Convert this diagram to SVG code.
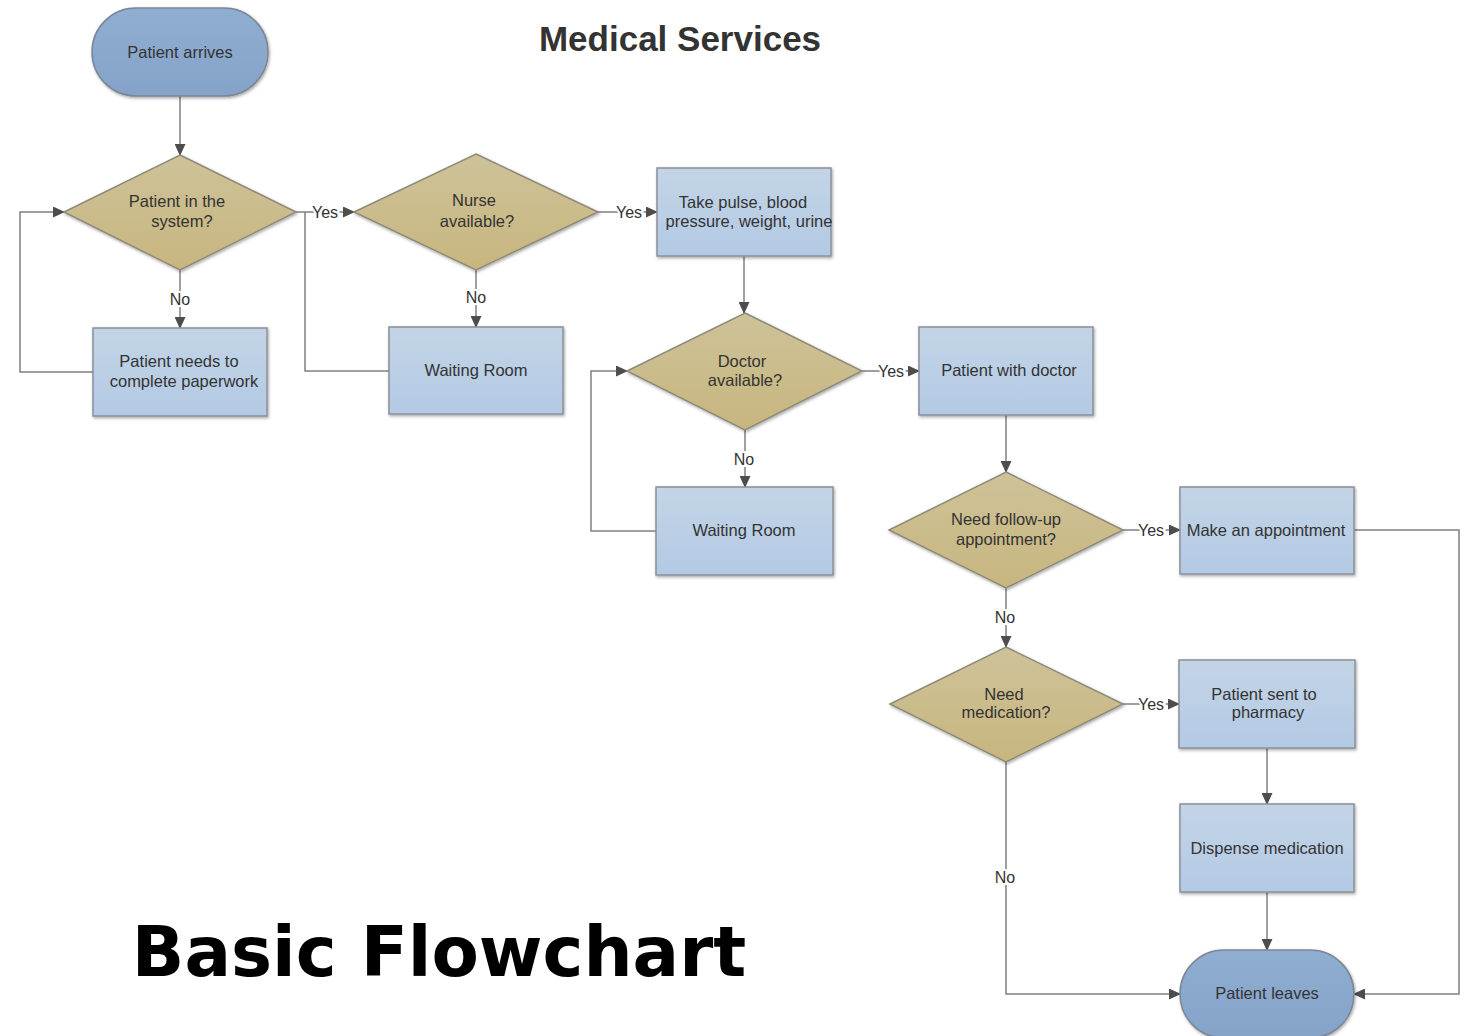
<svg xmlns="http://www.w3.org/2000/svg" width="1468" height="1036" viewBox="0 0 1468 1036">
<defs>
<linearGradient id="gBox" x1="0" y1="0" x2="0" y2="1"><stop offset="0" stop-color="#c3d4e6"/><stop offset="1" stop-color="#b3cae4"/></linearGradient>
<linearGradient id="gDia" x1="0" y1="0" x2="0" y2="1"><stop offset="0" stop-color="#cdc299"/><stop offset="1" stop-color="#c8b67e"/></linearGradient>
<linearGradient id="gTerm" x1="0" y1="0" x2="0" y2="1"><stop offset="0" stop-color="#90aed1"/><stop offset="1" stop-color="#85a3c9"/></linearGradient>
<filter id="sh" x="-10%" y="-10%" width="120%" height="130%"><feDropShadow dx="1" dy="1.5" stdDeviation="1.6" flood-color="#000" flood-opacity="0.35"/></filter>
<marker id="ar" markerUnits="userSpaceOnUse" markerWidth="12" markerHeight="11" refX="11" refY="5.5" orient="auto"><path d="M0,0 L12,5.5 L0,11 z" fill="#4d4d4d"/></marker>
</defs>
<style>
.box{fill:url(#gBox);stroke:#8a9098;stroke-width:1.5;filter:url(#sh)}
.dia{fill:url(#gDia);stroke:#8f8a78;stroke-width:1.5;filter:url(#sh)}
.term{fill:url(#gTerm);stroke:#7c8796;stroke-width:1.5;filter:url(#sh)}
.t{font-family:"Liberation Sans",Arial,sans-serif;font-size:16.5px;fill:#333;text-anchor:middle}
.lbl{font-family:"Liberation Sans",Arial,sans-serif;font-size:16px;fill:#333;text-anchor:middle;stroke:#fff;stroke-width:4;paint-order:stroke}
.c{fill:none;stroke:#808080;stroke-width:1.5}
.ca{fill:none;stroke:#808080;stroke-width:1.5;marker-end:url(#ar)}
</style>
<rect width="1468" height="1036" fill="#fff"/>
<text x="680" y="51" font-family="Liberation Sans,Arial,sans-serif" font-size="35" font-weight="bold" fill="#333" text-anchor="middle">Medical Services</text>
<text x="439" y="976" font-family="DejaVu Sans,Verdana,sans-serif" font-size="69" font-weight="bold" fill="#000" text-anchor="middle">Basic Flowchart</text>

<g id="connectors">
<path class="ca" d="M180,96 V155"/>
<path class="ca" d="M180,270 V328"/>
<path class="ca" d="M93,372 H20 V212 H64"/>
<path class="ca" d="M296,212 H354"/>
<path class="c" d="M389,371 H305 V212"/>
<path class="ca" d="M476,270 V327"/>
<path class="ca" d="M598,212 H657"/>
<path class="ca" d="M744,256 V313"/>
<path class="ca" d="M862,371 H919"/>
<path class="ca" d="M745,430 V487"/>
<path class="ca" d="M656,531 H591 V371 H627"/>
<path class="ca" d="M1006,415 V472"/>
<path class="ca" d="M1123,530 H1180"/>
<path class="ca" d="M1354,530 H1459 V994 H1354"/>
<path class="ca" d="M1006,588 V647"/>
<path class="ca" d="M1123,704 H1179"/>
<path class="ca" d="M1267,748 V804"/>
<path class="ca" d="M1267,892 V950"/>
<path class="ca" d="M1006,762 V994 H1180"/>
<text class="lbl" x="180" y="305">No</text>
<text class="lbl" x="476" y="303">No</text>
<text class="lbl" x="744" y="465">No</text>
<text class="lbl" x="1005" y="623">No</text>
<text class="lbl" x="1005" y="883">No</text>
<text class="lbl" x="325" y="218">Yes</text>
<text class="lbl" x="629" y="218">Yes</text>
<text class="lbl" x="891" y="377">Yes</text>
<text class="lbl" x="1151" y="536">Yes</text>
<text class="lbl" x="1151" y="710">Yes</text>
</g>

<g id="patient-arrives"><rect class="term" x="92" y="8" width="176" height="88" rx="44"/><text class="t" x="180" y="58">Patient arrives</text></g>
<g id="in-system"><polygon class="dia" points="180,155 296,212 180,270 64,212"/><text class="t" x="177" y="207">Patient in the</text><text class="t" x="182" y="227">system?</text></g>
<g id="paperwork"><rect class="box" x="93" y="328" width="174" height="88"/><text class="t" x="179" y="367">Patient needs to</text><text class="t" x="184" y="387">complete paperwork</text></g>
<g id="nurse"><polygon class="dia" points="476,154 598,212 476,270 354,212"/><text class="t" x="474" y="206">Nurse</text><text class="t" x="477" y="227">available?</text></g>
<g id="waiting1"><rect class="box" x="389" y="327" width="174" height="87"/><text class="t" x="476" y="376">Waiting Room</text></g>
<g id="vitals"><rect class="box" x="657" y="168" width="174" height="88"/><text class="t" x="743" y="208">Take pulse, blood</text><text class="t" x="749" y="227">pressure, weight, urine</text></g>
<g id="doctor"><polygon class="dia" points="745,313 862,371 745,430 627,371"/><text class="t" x="742" y="367">Doctor</text><text class="t" x="745" y="386">available?</text></g>
<g id="waiting2"><rect class="box" x="656" y="487" width="177" height="88"/><text class="t" x="744" y="536">Waiting Room</text></g>
<g id="with-doctor"><rect class="box" x="919" y="327" width="174" height="88"/><text class="t" x="1009" y="376">Patient with doctor</text></g>
<g id="followup"><polygon class="dia" points="1006,472 1123,530 1006,588 889,530"/><text class="t" x="1006" y="525">Need follow-up</text><text class="t" x="1006" y="545">appointment?</text></g>
<g id="appointment"><rect class="box" x="1180" y="487" width="174" height="87"/><text class="t" x="1266" y="536">Make an appointment</text></g>
<g id="medication"><polygon class="dia" points="1006,647 1123,704 1006,762 890,704"/><text class="t" x="1004" y="700">Need</text><text class="t" x="1006" y="718">medication?</text></g>
<g id="pharmacy"><rect class="box" x="1179" y="660" width="176" height="88"/><text class="t" x="1264" y="700">Patient sent to</text><text class="t" x="1268" y="718">pharmacy</text></g>
<g id="dispense"><rect class="box" x="1180" y="804" width="174" height="88"/><text class="t" x="1267" y="854">Dispense medication</text></g>
<g id="patient-leaves"><rect class="term" x="1180" y="950" width="174" height="88" rx="44"/><text class="t" x="1267" y="999">Patient leaves</text></g>
</svg>
